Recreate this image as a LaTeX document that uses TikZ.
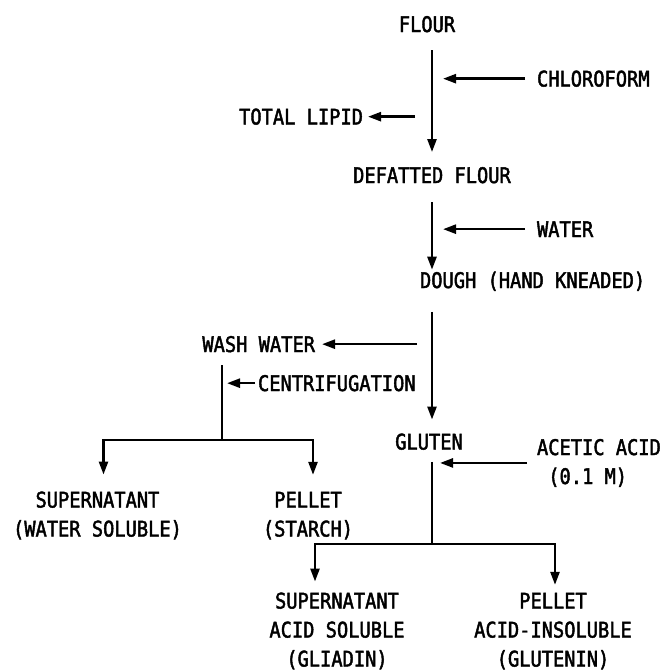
\documentclass[tikz,border=0pt]{standalone}
\usepackage{fontspec}
\setmonofont[FakeStretch=0.87, FakeBold=2]{DejaVu Sans Mono}
\usetikzlibrary{arrows.meta}

\begin{document}
\begin{tikzpicture}[x=1pt, y=-1pt,
        txt/.style={inner sep=0pt, outer sep=0pt, font=\ttfamily\fontsize{21.5}{29}\selectfont},
        stack/.style={txt, align=center},
        flow/.style={-{Triangle[length=13pt,width=9pt]}, line width=2.5pt},
        bar/.style={line width=2.5pt}
    ]
        \useasboundingbox (0,0) rectangle (668,672);

        \node[txt, anchor=base] (flour) at (427,32) {FLOUR};
        \node[txt, anchor=base west] (chloro) at (537,86.5) {CHLOROFORM};
        \node[txt, anchor=base east] (lipid) at (363,124.5) {TOTAL LIPID};
        \node[txt, anchor=base] (defat) at (432,183) {DEFATTED FLOUR};
        \node[txt, anchor=base west] (water) at (537,237) {WATER};
        \node[txt, anchor=base west] (dough) at (420,288) {DOUGH (HAND KNEADED)};
        \node[txt, anchor=base east] (wash) at (315,352) {WASH WATER};
        \node[txt, anchor=base west] (centri) at (258,391) {CENTRIFUGATION};
        \node[txt, anchor=base] (gluten) at (429,449.5) {GLUTEN};
        \node[txt, align=left, anchor=base west] (acetic) at (537,484) {ACETIC ACID\\\phantom{A}(0.1 M)};

        \node[stack, anchor=base] (sup1) at (97.5,536.5) {SUPERNATANT\\(WATER SOLUBLE)};
        \node[stack, anchor=base] (pel1) at (308,536.5) {PELLET\\(STARCH)};
        \node[stack, anchor=base] (sup2) at (337,666.5) {SUPERNATANT\\ACID SOLUBLE\\(GLIADIN)};
        \node[stack, anchor=base] (pel2) at (553,666.5) {PELLET\\ACID-INSOLUBLE\\(GLUTENIN)};

        \coordinate (split1) at (222,440);
        \coordinate (split2) at (432,544);

        \draw[flow, shorten <=18pt, shorten >=15pt] (flour.south -| defat.north) -- (defat.north);
        \draw[flow, shorten <=12pt, shorten >=11pt] (chloro.west) -- (chloro.west -| defat.north);
        \draw[flow, shorten <=17pt, shorten >=5pt] (lipid.east -| defat.north) -- (lipid.east);

        \draw[flow, shorten <=19pt, shorten >=2pt] (defat.south) -- (defat.south |- dough.north);
        \draw[flow, shorten <=12pt, shorten >=11pt] (water.west) -- (water.west -| defat.north);

        \draw[flow, shorten <=21pt, shorten >=14pt] (defat.south |- dough.south) -- (defat.south |- gluten.north);
        \draw[flow, shorten <=15pt, shorten >=7pt] (defat.south |- wash.east) -- (wash.east);

        \draw[bar, shorten <=13pt] (split1 |- wash.south) -- (split1);
        \draw[flow, shorten <=3pt, shorten >=5pt] (centri.west) -- (centri.west -| split1);
        \draw[flow, shorten >=17pt] (split1) -| ([xshift=6pt]sup1.north);
        \draw[flow, shorten >=17pt] (split1) -| ([xshift=5pt]pel1.north);

        \draw[flow, shorten <=10pt, shorten >=8pt] (acetic.west) -- (acetic.west -| defat.north);
        \draw[bar, shorten <=12pt] (defat.south |- gluten.south) -- (split2);
        \draw[flow, shorten >=11pt] (split2) -| ([xshift=-22pt]sup2.north);
        \draw[flow, shorten >=8pt] (split2) -| ([xshift=2pt]pel2.north);
    \end{tikzpicture}
\end{document}
